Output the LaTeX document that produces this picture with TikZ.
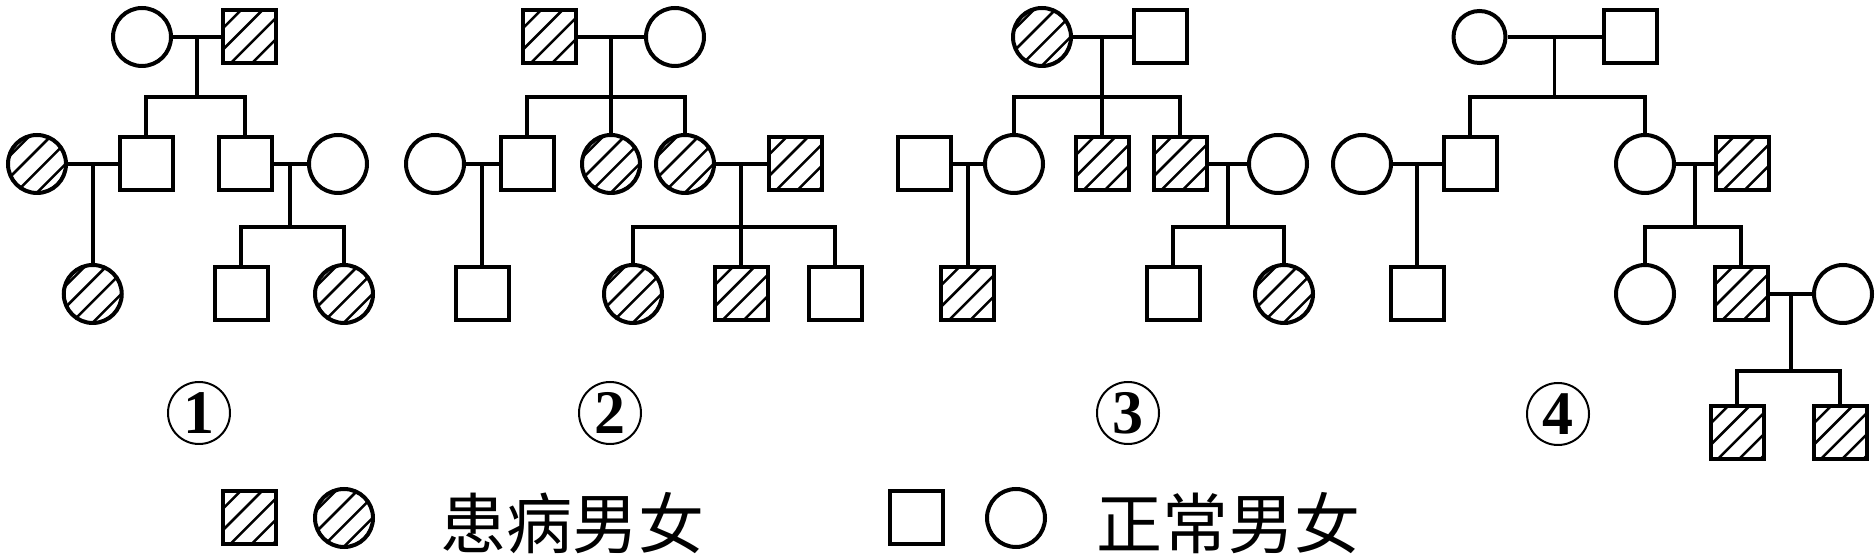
\documentclass[tikz,border=0pt]{standalone}
\usepackage{fontspec}
\usetikzlibrary{calc}
\newfontfamily\cjk{Noto Sans CJK SC}
\newfontfamily\numfont{Liberation Serif}

\begin{document}
\begin{tikzpicture}[x=0.5pt,y=-0.5pt,
    person/.style={draw,line width=2pt,inner sep=0pt},
    male/.style={person,rectangle,minimum size=26.5pt},
    female/.style={person,circle,minimum size=29pt},
    ill/.style={path picture={\foreach \c in {-28.3,-17.65,-7,3.65,14.3,24.95}
        {\draw[line width=1.25pt] ($(path picture bounding box.center)+(\c pt-20pt,-20pt)$) -- ++(40pt,40pt);}}},
    link/.style={line width=1.8pt},
    numlab/.style={circle,draw,line width=1pt,minimum size=31pt,inner sep=0pt,
        font=\numfont\bfseries\fontsize{31pt}{31pt}\selectfont},
    keytext/.style={anchor=west,inner sep=0pt,font=\cjk\fontsize{33pt}{36pt}\selectfont}]
  \useasboundingbox (0,0) rectangle (1875,560);
  % rows
  \coordinate (r2) at (0,164);
  \coordinate (r3) at (0,294);
  \coordinate (s12) at (0,97);
  \coordinate (s23) at (0,227);
  \coordinate (s34) at (0,371);

  % pedigree 1
  \node[female] (p1i1) at (142,37) {};
  \node[male,ill] (p1i2) at (249.5,37) {};
  \coordinate (p1m1) at ($(p1i1.east)!.5!(p1i2.west)$);
  \node[female,ill] (p1ii1) at (37,164) {};
  \node[male] (p1ii2) at (146,164) {};
  \node[male] (p1ii3) at (245,164) {};
  \node[female] (p1ii4) at (338,164) {};
  \coordinate (p1m2) at ($(p1ii1.east)!.5!(p1ii2.west)$);
  \coordinate (p1m3) at ($(p1ii3.east)!.5!(p1ii4.west)$);
  \node[female,ill] (p1iii1) at (p1m2 |- r3) {};
  \node[male] (p1iii2) at (241,294) {};
  \node[female,ill] (p1iii3) at (344,294) {};
  \draw[link] (p1i1) -- (p1i2) (p1ii1) -- (p1ii2) (p1ii3) -- (p1ii4);
  \draw[link] (p1m1) -- (p1m1 |- s12);
  \draw[link] (p1ii2.north) |- (p1m1 |- s12) -| (p1ii3.north);
  \draw[link] (p1m2) -- (p1iii1.north);
  \draw[link] (p1m3) -- (p1m3 |- s23);
  \draw[link] (p1iii2.north) |- (p1m3 |- s23) -| (p1iii3.north);

  % pedigree 2
  \node[male,ill] (p2i1) at (549.5,37) {};
  \node[female] (p2i2) at (675,37) {};
  \coordinate (p2m1) at ($(p2i1.east)!.5!(p2i2.west)$);
  \node[female] (p2ii1) at (435,164) {};
  \node[male] (p2ii2) at (527,164) {};
  \node[female,ill] (p2ii3) at (p2m1 |- r2) {};
  \node[female,ill] (p2ii4) at (685,164) {};
  \node[male,ill] (p2ii5) at (795,164) {};
  \coordinate (p2m2) at ($(p2ii1.east)!.5!(p2ii2.west)$);
  \coordinate (p2m3) at ($(p2ii4.east)!.5!(p2ii5.west)$);
  \node[male] (p2iii1) at (p2m2 |- r3) {};
  \node[female,ill] (p2iii2) at (633,294) {};
  \node[male,ill] (p2iii3) at (p2m3 |- r3) {};
  \node[male] (p2iii4) at (835,294) {};
  \draw[link] (p2i1) -- (p2i2) (p2ii1) -- (p2ii2) (p2ii4) -- (p2ii5);
  \draw[link] (p2m1) -- (p2ii3.north);
  \draw[link] (p2ii2.north) |- (p2m1 |- s12) -| (p2ii4.north);
  \draw[link] (p2m2) -- (p2iii1.north);
  \draw[link] (p2m3) -- (p2iii3.north);
  \draw[link] (p2iii2.north) |- (p2m3 |- s23) -| (p2iii4.north);

  % pedigree 3
  \node[female,ill] (p3i1) at (1042,37) {};
  \node[male] (p3i2) at (1160,37) {};
  \coordinate (p3m1) at ($(p3i1.east)!.5!(p3i2.west)$);
  \node[male] (p3ii1) at (924,164) {};
  \node[female] (p3ii2) at (1014,164) {};
  \node[male,ill] (p3ii3) at (p3m1 |- r2) {};
  \node[male,ill] (p3ii4) at (1180,164) {};
  \node[female] (p3ii5) at (1278,164) {};
  \coordinate (p3m2) at ($(p3ii1.east)!.5!(p3ii2.west)$);
  \coordinate (p3m3) at ($(p3ii4.east)!.5!(p3ii5.west)$);
  \node[male,ill] (p3iii1) at (p3m2 |- r3) {};
  \node[male] (p3iii2) at (1173,294) {};
  \node[female,ill] (p3iii3) at (1284,294) {};
  \draw[link] (p3i1) -- (p3i2) (p3ii1) -- (p3ii2) (p3ii4) -- (p3ii5);
  \draw[link] (p3m1) -- (p3ii3.north);
  \draw[link] (p3ii2.north) |- (p3m1 |- s12) -| (p3ii4.north);
  \draw[link] (p3m2) -- (p3iii1.north);
  \draw[link] (p3m3) -- (p3m3 |- s23);
  \draw[link] (p3iii2.north) |- (p3m3 |- s23) -| (p3iii3.north);

  % pedigree 4
  \node[female,minimum size=26pt] (p4i1) at (1479.5,37) {};
  \node[male] (p4i2) at (1630,37) {};
  \coordinate (p4m1) at ($(p4i1.east)!.5!(p4i2.west)$);
  \node[female] (p4ii1) at (1362,164) {};
  \node[male] (p4ii2) at (1470,164) {};
  \node[female] (p4ii3) at (1645,164) {};
  \node[male,ill] (p4ii4) at (1742,164) {};
  \coordinate (p4m2) at ($(p4ii1.east)!.5!(p4ii2.west)$);
  \coordinate (p4m3) at ($(p4ii3.east)!.5!(p4ii4.west)$);
  \node[male] (p4iii1) at (p4m2 |- r3) {};
  \node[female] (p4iii2) at (1645,294) {};
  \node[male,ill] (p4iii3) at (1741,294) {};
  \node[female] (p4iii4) at (1843,294) {};
  \coordinate (p4m4) at ($(p4iii3.east)!.5!(p4iii4.west)$);
  \node[male,ill] (p4iv1) at (1737,432.5) {};
  \node[male,ill] (p4iv2) at (1840,432.5) {};
  \draw[link] (p4i1) -- (p4i2) (p4ii1) -- (p4ii2) (p4ii3) -- (p4ii4) (p4iii3) -- (p4iii4);
  \draw[link] (p4m1) -- (p4m1 |- s12);
  \draw[link] (p4ii2.north) |- (p4m1 |- s12) -| (p4ii3.north);
  \draw[link] (p4m2) -- (p4iii1.north);
  \draw[link] (p4m3) -- (p4m3 |- s23);
  \draw[link] (p4iii2.north) |- (p4m3 |- s23) -| (p4iii3.north);
  \draw[link] (p4m4) -- (p4m4 |- s34);
  \draw[link] (p4iv1.north) |- (p4m4 |- s34) -| (p4iv2.north);

  % numbers
  \node[numlab] (n1) at (199,413) {1};
  \node[numlab] (n2) at (610,413) {2};
  \node[numlab] (n3) at (1128,413) {3};
  \node[numlab] (n4) at (1558,414) {4};

  % key
  \node[male,ill] (key1) at (249,518) {};
  \node[female,ill] (key2) at (344,518) {};
  \node[keytext] (key3) at (440,523) {患病男女};
  \node[male] (key4) at (916.5,518) {};
  \node[female] (key5) at (1016,518) {};
  \node[keytext] (key6) at (1096,523) {正常男女};
\end{tikzpicture}
\end{document}
